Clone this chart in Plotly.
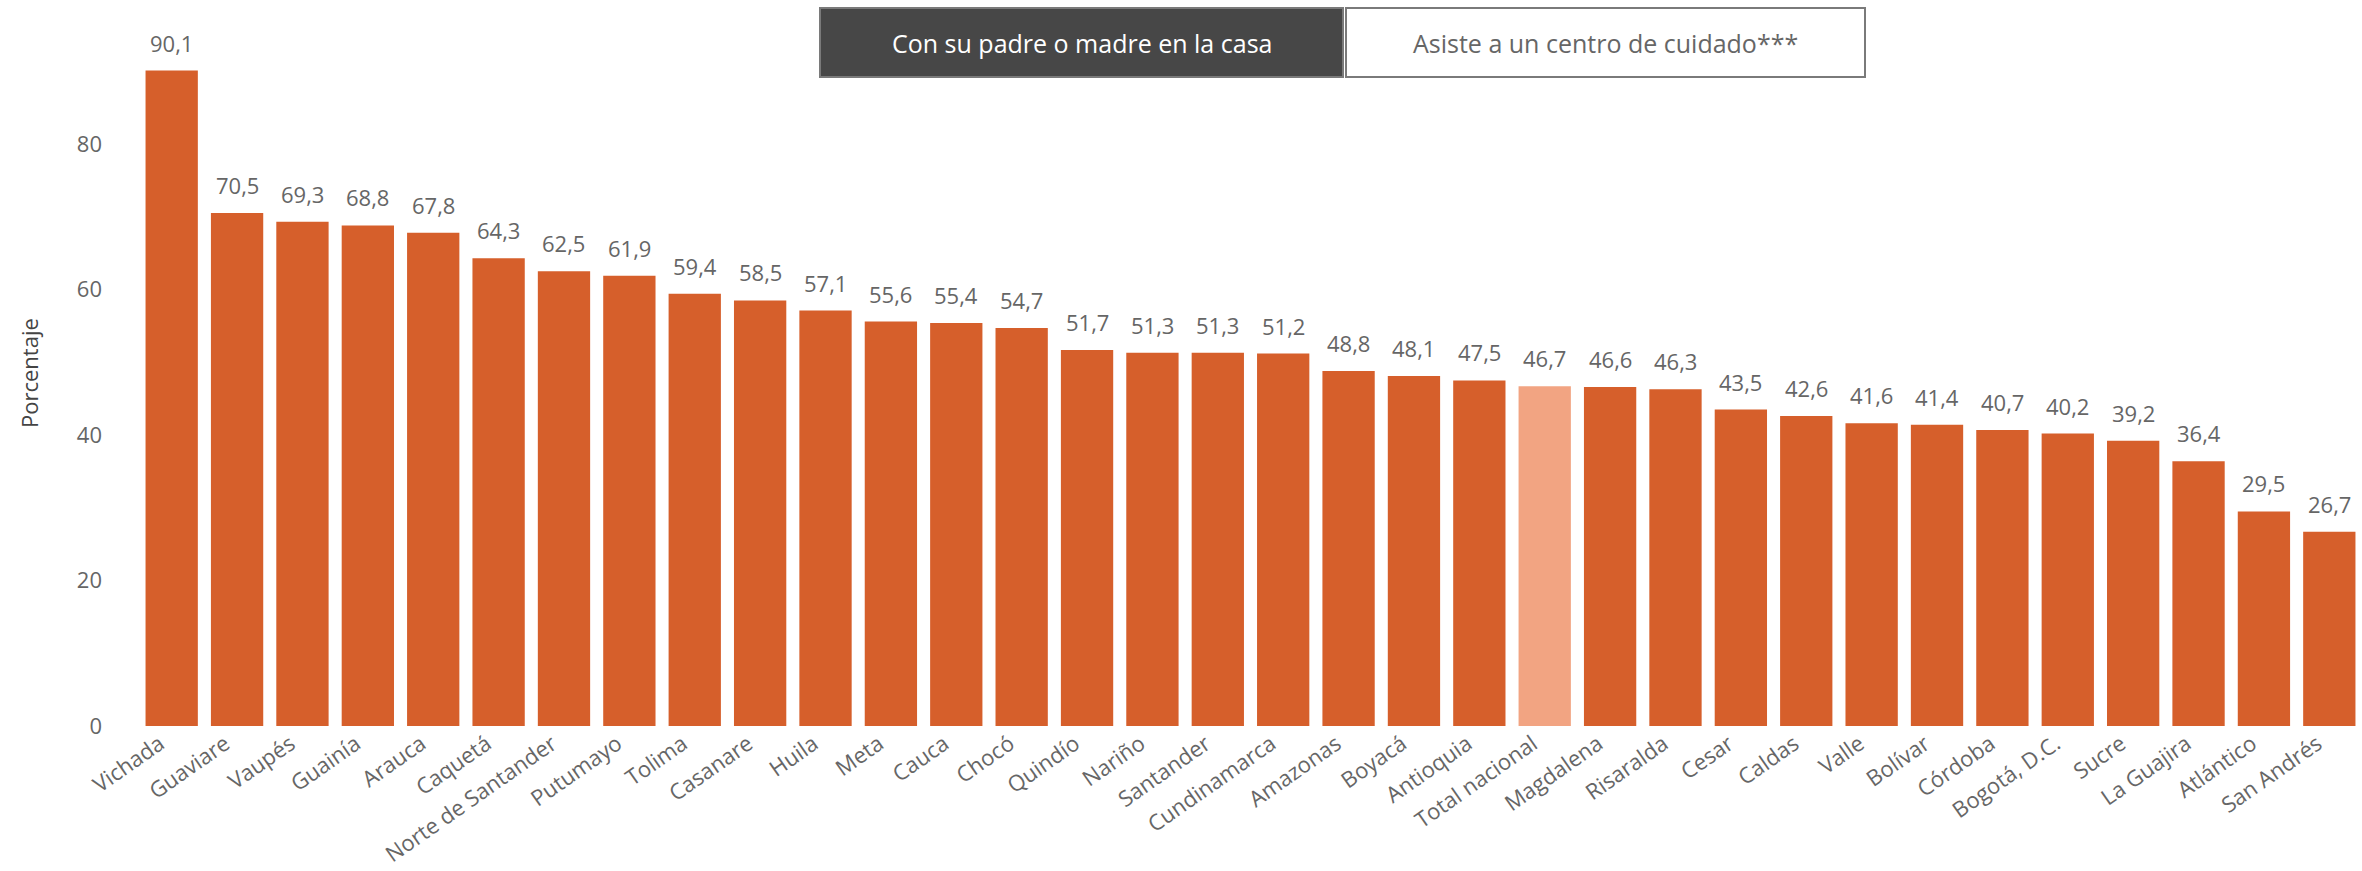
import plotly.graph_objects as go

# Department names and share (%) of children cared for by a parent at home
departamentos = [
    "Vichada", "Guaviare", "Vaupés", "Guainía", "Arauca", "Caquetá",
    "Norte de Santander", "Putumayo", "Tolima", "Casanare", "Huila", "Meta",
    "Cauca", "Chocó", "Quindío", "Nariño", "Santander", "Cundinamarca",
    "Amazonas", "Boyacá", "Antioquia", "Total nacional", "Magdalena",
    "Risaralda", "Cesar", "Caldas", "Valle", "Bolívar", "Córdoba",
    "Bogotá, D.C.", "Sucre", "La Guajira", "Atlántico", "San Andrés",
]
porcentajes = [
    90.1, 70.5, 69.3, 68.8, 67.8, 64.3, 62.5, 61.9, 59.4, 58.5, 57.1, 55.6,
    55.4, 54.7, 51.7, 51.3, 51.3, 51.2, 48.8, 48.1, 47.5, 46.7, 46.6, 46.3,
    43.5, 42.6, 41.6, 41.4, 40.7, 40.2, 39.2, 36.4, 29.5, 26.7,
]
y_ticks = [0, 20, 40, 60, 80]
botones = ["Con su padre o madre en la casa", "Asiste a un centro de cuidado***"]

NARANJA = "#D65F2B"
NARANJA_CLARO = "#F2A482"
GRIS_TEXTO = "#666666"
FUENTE = "Open Sans"

W, H = 2362, 871
M_L, M_R, M_T, M_B = 139, 0, 0, 145
plot_w = W - M_L - M_R
plot_h = H - M_T - M_B


def px_x(px):
    return (px - M_L) / plot_w


def px_y(py):
    return (H - M_B - py) / plot_h


colores = [NARANJA_CLARO if d == "Total nacional" else NARANJA for d in departamentos]

fig = go.Figure(
    go.Bar(
        x=departamentos,
        y=porcentajes,
        marker=dict(color=colores, line=dict(width=0)),
        hoverinfo="x+y",
    )
)

# value labels above each bar
for d, v in zip(departamentos, porcentajes):
    fig.add_annotation(
        x=d, y=v, xref="x", yref="y",
        text=f"{v:.1f}".replace(".", ","),
        showarrow=False, yanchor="bottom", yshift=11,
        font=dict(family=FUENTE, size=22, color=GRIS_TEXTO),
    )

# y axis title
fig.add_annotation(
    x=px_x(29), y=px_y(373), xref="paper", yref="paper",
    text="Porcentaje", textangle=-90, showarrow=False,
    xanchor="center", yanchor="middle",
    font=dict(family=FUENTE, size=22, color="#444444"),
)

# toggle buttons at the top
cajas = [(820, 1343, "#474747", "#FFFFFF"), (1346, 1865, "#FFFFFF", GRIS_TEXTO)]
for (x0, x1, fondo, color_txt), etiqueta in zip(cajas, botones):
    fig.add_shape(
        type="rect", xref="paper", yref="paper",
        x0=px_x(x0), x1=px_x(x1), y0=px_y(77), y1=px_y(8),
        fillcolor=fondo, line=dict(color="#7A7A7A", width=2),
    )
    fig.add_annotation(
        x=px_x((x0 + x1) / 2), y=px_y(43), xref="paper", yref="paper",
        text=etiqueta, showarrow=False, xanchor="center", yanchor="middle",
        font=dict(family=FUENTE, size=25, color=color_txt),
    )

fig.update_layout(
    width=W, height=H,
    margin=dict(l=M_L, r=M_R, t=M_T, b=M_B, pad=0, autoexpand=False),
    plot_bgcolor="white", paper_bgcolor="white",
    bargap=0.2,
    showlegend=False,
    separators=",.",
    font=dict(family=FUENTE, color=GRIS_TEXTO),
    xaxis=dict(
        tickangle=-35,
        tickfont=dict(family=FUENTE, size=22, color=GRIS_TEXTO),
        showgrid=False, showline=False, zeroline=False, ticks="",
        automargin=False,
        ticklabelshift=-12,
    ),
    yaxis=dict(
        range=[0, plot_h / 7.275],
        tickvals=y_ticks,
        tickfont=dict(family=FUENTE, size=22, color=GRIS_TEXTO),
        showgrid=False, showline=False, zeroline=False, ticks="",
        ticklabelstandoff=36,
        automargin=False,
    ),
)

fig.write_html("out.html")
